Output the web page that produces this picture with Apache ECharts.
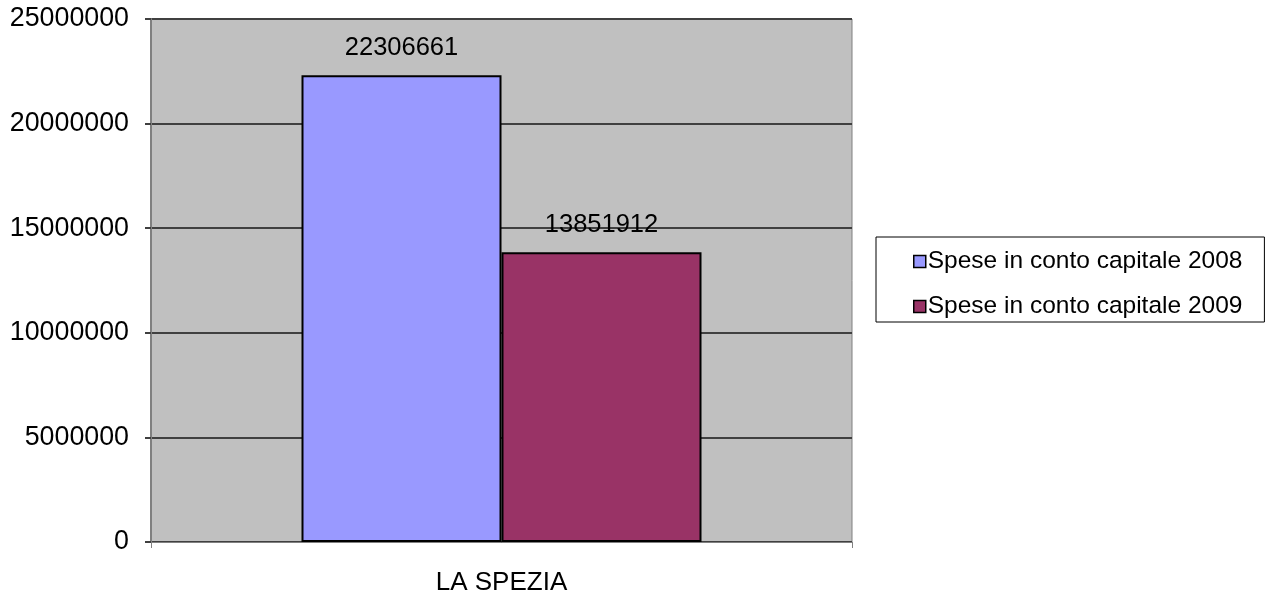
<!DOCTYPE html>
<html>
<head>
<meta charset="utf-8">
<script src="https://cdn.jsdelivr.net/npm/echarts@6/dist/echarts.min.js"></script>
<style>
  html, body { margin: 0; padding: 0; background: #ffffff; }
  #chart { width: 1266px; height: 601px; }
</style>
</head>
<body>
<div id="chart"></div>
<script>
// values
const categories = ['LA SPEZIA'];
const seriesNames = ['Spese in conto capitale 2008', 'Spese in conto capitale 2009'];
const spese2008 = [22306661];
const spese2009 = [13851912];
const seriesColors = ['#9999FF', '#993366'];

const font = 'Liberation Sans, Arial, sans-serif';

function getBarOption() {
    const option = {
        animation: false,
        textStyle: { fontFamily: font },
        grid: {
            left: 151,
            top: 19,
            width: 701,
            height: 523,
            show: true,
            backgroundColor: '#C0C0C0',
            borderColor: '#808080',
            borderWidth: 1,
        },
        legend: {
            orient: 'vertical',
            left: 876,
            top: 237,
            padding: [12, 22, 3, 37],
            borderColor: '#000000',
            borderWidth: 1,
            itemWidth: 12,
            itemHeight: 12,
            itemGap: 20,
            icon: 'rect',
            itemStyle: { borderColor: '#000', borderWidth: 1.5 },
            textStyle: { fontFamily: font, fontSize: 24.5, color: '#000', lineHeight: 25, padding: [0, 0, 0, -3] },
            data: seriesNames,
        },
        xAxis: {
            type: 'category',
            data: categories,
            axisLine: { lineStyle: { color: '#808080', width: 1 } },
            axisTick: { show: true, length: 6, lineStyle: { color: '#808080' } },
            axisLabel: { fontSize: 26, color: '#000', margin: 28, fontFamily: font },
        },
        yAxis: {
            type: 'value',
            min: 0,
            max: 25000000,
            interval: 5000000,
            axisLine: { show: true, lineStyle: { color: '#808080', width: 2 } },
            axisTick: { show: true, length: 6, lineStyle: { color: '#404040', width: 2 } },
            axisLabel: { fontSize: 26.8, color: '#000', margin: 22, fontFamily: font, formatter: (v) => String(v) },
            splitLine: { lineStyle: { color: '#404040', width: 2 } },
        },
        series: [
            {
                name: seriesNames[0],
                type: 'bar',
                data: spese2008,
                barWidth: 200,
                barGap: '0%',
                itemStyle: { color: seriesColors[0], borderColor: '#000', borderWidth: 2 },
                label: { show: true, position: 'top', distance: 14, fontSize: 25.5, color: '#000', fontFamily: font },
            },
            {
                name: seriesNames[1],
                type: 'bar',
                data: spese2009,
                barWidth: 200,
                barGap: '0%',
                itemStyle: { color: seriesColors[1], borderColor: '#000', borderWidth: 2 },
                label: { show: true, position: 'top', distance: 14, fontSize: 25.5, color: '#000', fontFamily: font },
            },
        ],
    };
    return option;
}

const chart = echarts.init(document.getElementById('chart'));
chart.setOption(getBarOption());
</script>
</body>
</html>
